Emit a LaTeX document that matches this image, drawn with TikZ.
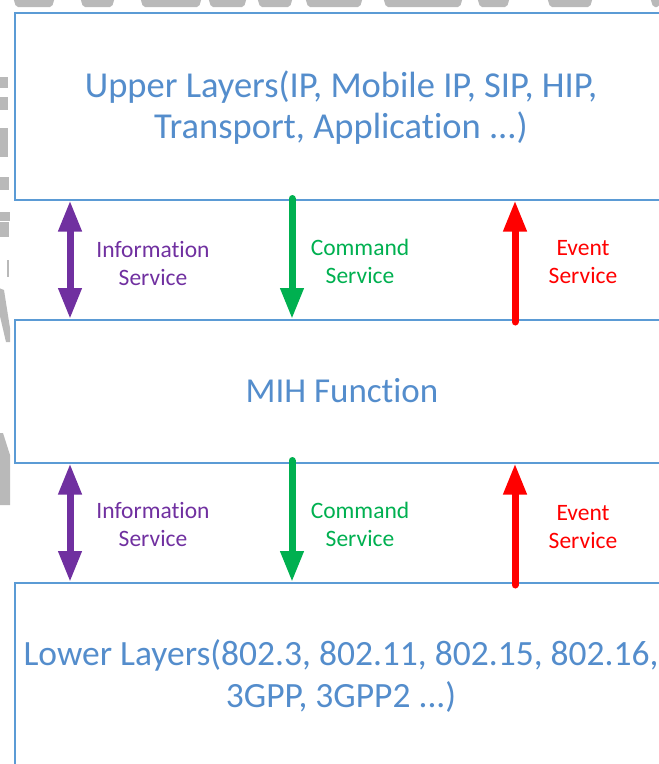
\documentclass[tikz,border=0pt]{standalone}
\usepackage{fontspec}
\setmainfont{Carlito}[Ligatures={NoCommon}]
\usetikzlibrary{arrows.meta}

\definecolor{boxline}{RGB}{91,155,213}
\definecolor{layertext}{RGB}{84,141,204}
\definecolor{infopurple}{RGB}{112,48,160}
\definecolor{cmdgreen}{RGB}{0,176,80}
\definecolor{evtred}{RGB}{255,0,0}
\definecolor{markgray}{RGB}{185,185,185}

\tikzset{
  layerbox/.style={draw=boxline, line width=1.5pt, fill=white, anchor=north west,
    minimum width=654pt, inner sep=0pt},
  layerlabel/.style={text=layertext, align=center, anchor=base, inner sep=0pt},
  svclabel/.style={font=\fontsize{23.5pt}{28pt}\selectfont, align=center,
    anchor=base, inner sep=0pt},
  shaft/.style={line width=7pt, line cap=round},
  headtip/.tip={Triangle[length=31pt,width=22pt]},
  infoarrow/.style={shaft, draw=infopurple, headtip-headtip},
  cmdarrow/.style={shaft, draw=cmdgreen, -headtip},
  evtarrow/.style={shaft, draw=evtred, -headtip},
}

\begin{document}
\begin{tikzpicture}[x=1pt,y=-1pt]
\useasboundingbox (0,0) rectangle (659,764);
\clip (0,0) rectangle (659,764);

% faint grey watermark dashes along the top and left edges
\begin{scope}[fill=markgray]
  \foreach \a/\b in {13/55,80/115,140/202,208/247,257/293,305/363,383/463,477/510,547/593,650/662}
    \fill[rounded corners=2pt] (\a,-3) -- (\b,-3) -- (\b-3,7) -- (\a+3,7) -- cycle;
  \fill (-1,77) rectangle (8,88);
  \fill (-1,97) rectangle (8,110);
  \fill (-1,128) rectangle (8,157);
  \fill (-1,177) rectangle (9,190);
  \fill (-1,212) rectangle (10,221);
  \fill (-1,222) -- (9,222) -- (9,237) -- (-1,237) -- cycle;
  \fill (7,260) rectangle (9,277);
  \fill (-1,288) -- (4,290) -- (10,328) -- (10,342) -- (6,342) -- (-1,312) -- cycle;
  \fill (-1,433) -- (3,433) -- (10,455) -- (10,505) -- (-1,505) -- cycle;
\end{scope}

% the three layer boxes (right side runs past the edge)
\node[layerbox, minimum height=187pt] (upper) at (14,12) {};
\node[layerbox, minimum height=143pt] (mih) at (14,319) {};
\node[layerbox, minimum height=187pt] (lower) at (14,582) {};

% box texts (anchored on the baseline of their last line)
\node[layerlabel, font=\fontsize{36.5pt}{41pt}\selectfont] (uppertext) at (341,138)
  {Upper Layers(IP, Mobile IP, SIP, HIP,\\Transport, Application ...)};
\node[layerlabel, font=\fontsize{35pt}{42pt}\selectfont] (mihtext) at (342,402) {MIH Function};
\node[layerlabel, font=\fontsize{35.5pt}{42pt}\selectfont] (lowertext) at (341,707)
  {Lower Layers(802.3, 802.11, 802.15, 802.16,\\3GPP, 3GPP2 ...)};

% columns of the service arrows
\coordinate (colI) at (70,0);
\coordinate (colC) at (292,0);
\coordinate (colE) at (515,0);

% services between upper layers and MIH function
\draw[infoarrow] (colI |- upper.south) -- (colI |- mih.north);
\draw[cmdarrow] ([yshift=2pt]colC |- upper.south) -- (colC |- mih.north);
\draw[evtarrow] ([yshift=-3pt]colE |- mih.north) -- (colE |- upper.south);

\node[svclabel, text=infopurple] (info1) at (153,285) {Information\\Service};
\node[svclabel, text=cmdgreen] (cmd1) at (360,283) {Command\\Service};
\node[svclabel, text=evtred] (evt1) at (583,283) {Event\\Service};

% services between MIH function and lower layers
\draw[infoarrow] (colI |- mih.south) -- (colI |- lower.north);
\draw[cmdarrow] ([yshift=3pt]colC |- mih.south) -- (colC |- lower.north);
\draw[evtarrow] ([yshift=-3pt]colE |- lower.north) -- (colE |- mih.south);

\node[svclabel, text=infopurple] (info2) at (153,546) {Information\\Service};
\node[svclabel, text=cmdgreen] (cmd2) at (360,546) {Command\\Service};
\node[svclabel, text=evtred] (evt2) at (583,548) {Event\\Service};
\end{tikzpicture}
\end{document}
